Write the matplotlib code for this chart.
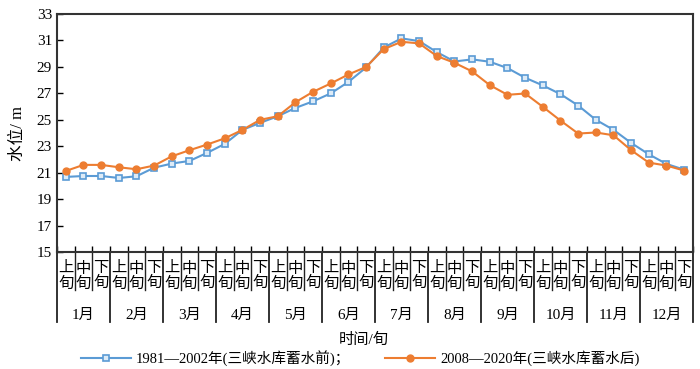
import numpy as np
import matplotlib
matplotlib.use("Agg")
import matplotlib.pyplot as plt

plt.rcParams['font.family'] = ['Liberation Serif', 'Noto Sans CJK SC']

months = ['1月', '2月', '3月', '4月', '5月', '6月',
          '7月', '8月', '9月', '10月', '11月', '12月']
dekads = ['上\n旬', '中\n旬', '下\n旬']

before = [20.68, 20.75, 20.75, 20.60, 20.73, 21.38, 21.69, 21.89, 22.50,
          23.18, 24.24, 24.77, 25.27, 25.90, 26.40, 27.00, 27.87, 28.96,
          30.47, 31.16, 30.95, 30.12, 29.41, 29.57, 29.39, 28.91, 28.18,
          27.60, 26.94, 26.08, 25.00, 24.24, 23.25, 22.39, 21.66, 21.23]
after = [21.13, 21.59, 21.59, 21.41, 21.26, 21.54, 22.24, 22.70, 23.13,
         23.60, 24.24, 25.00, 25.27, 26.33, 27.12, 27.75, 28.43, 29.00,
         30.35, 30.90, 30.78, 29.82, 29.31, 28.66, 27.62, 26.89, 26.99,
         25.98, 24.94, 23.96, 24.04, 23.83, 22.70, 21.76, 21.54, 21.16]

label_before = '1981—2002年(三峡水库蓄水前)；'
label_after = '2008—2020年(三峡水库蓄水后)'

fig = plt.figure(figsize=(7, 3.69), dpi=100)
ax = fig.add_axes([0.0814, 0.317, 0.9086, 0.645])

x = np.arange(len(before))
ax.plot(x, before, color='#5B9BD5', lw=1.5, marker='s', ms=4.5,
        mfc='#DDEBF7', mec='#5B9BD5', mew=1.2, label=label_before)
ax.plot(x, after, color='#ED7D31', lw=1.5, marker='o', ms=5,
        mfc='#ED7D31', mec='#ED7D31', label=label_after)

ax.set_xlim(-0.5, len(before) - 0.5)
ax.set_ylim(15, 33)
ax.set_yticks(np.arange(15, 34, 2))
ax.tick_params(axis='y', direction='in', length=4, labelsize=11, width=1)
ax.set_xticks(np.arange(-0.5, len(before), 1))
ax.set_xticklabels([])
ax.tick_params(axis='x', direction='in', length=4, width=1)
for s in ax.spines.values():
    s.set_linewidth(1.5)
    s.set_color('#333333')

trans = ax.get_xaxis_transform()
# dekad labels and separators
for i in range(len(before)):
    ax.text(i, -0.04, dekads[i % 3], transform=trans, ha='center', va='top',
            fontsize=11, linespacing=1.15)
for b in np.arange(-0.5, len(before), 1):
    is_month = (b + 0.5) % 3 == 0
    ax.plot([b, b], [0, -0.294 if is_month else -0.16], transform=trans,
            color='#222222', lw=1.3 if is_month else 1.0, clip_on=False)
for m, name in enumerate(months):
    ax.text(3 * m + 1, -0.265, name, transform=trans, ha='center',
            va='center', fontsize=11)

ax.set_ylabel('水位/ m', fontsize=12, labelpad=8)
fig.text(0.52, 0.08, '时间/旬', ha='center', va='center', fontsize=11)

fig.legend(loc='lower center', bbox_to_anchor=(0.515, -0.028), ncol=2,
           frameon=False, handlelength=3.4, handletextpad=0.35,
           columnspacing=2.4, fontsize=10.5)

fig.savefig('out.png', dpi=100)
